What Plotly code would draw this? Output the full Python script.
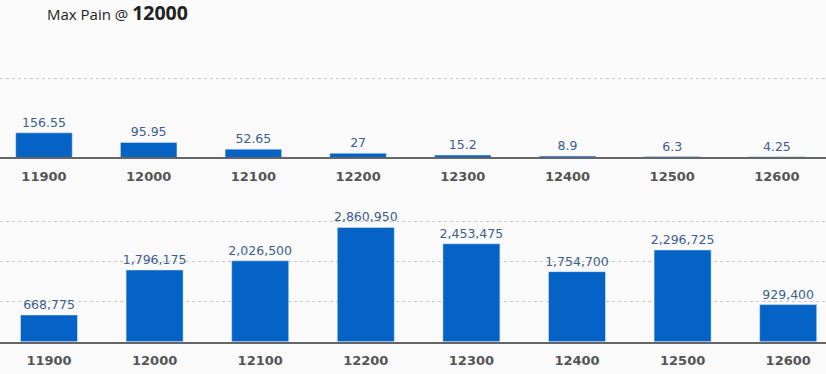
import plotly.graph_objects as go

strikes = ["11900", "12000", "12100", "12200", "12300", "12400", "12500", "12600"]
pain_values = [156.55, 95.95, 52.65, 27, 15.2, 8.9, 6.3, 4.25]
pain_labels = ["156.55", "95.95", "52.65", "27", "15.2", "8.9", "6.3", "4.25"]
oi_values = [668775, 1796175, 2026500, 2860950, 2453475, 1754700, 2296725, 929400]
max_pain_strike = "12000"

BAR = "#0563c6"
LBL = "#3d5f8f"
BG = "#fafafa"

fig = go.Figure()
fig.add_trace(go.Bar(x=list(range(len(strikes))), y=pain_values, marker_color=BAR,
                     width=0.54, text=pain_labels, textposition="outside", constraintext="none",
                     textfont=dict(family="DejaVu Sans", size=12.5, color=LBL),
                     cliponaxis=False, xaxis="x", yaxis="y", hoverinfo="skip"))
fig.add_trace(go.Bar(x=list(range(len(strikes))), y=oi_values, marker_color=BAR,
                     width=0.54, text=[f"{v:,}" for v in oi_values], textposition="outside",
                     constraintext="none",
                     textfont=dict(family="DejaVu Sans", size=12.5, color=LBL),
                     cliponaxis=False, xaxis="x2", yaxis="y2", hoverinfo="skip"))

tickfont = dict(family="DejaVu Sans", size=13, color="#555555", weight="bold")
xcommon = dict(tickmode="array", tickvals=list(range(len(strikes))), ticktext=strikes,
               tickfont=tickfont, showgrid=False, zeroline=False, showline=True,
               linecolor="#666666", linewidth=2, ticks="", ticklabelstandoff=6)
fig.update_layout(
    width=826, height=374,
    margin=dict(l=0, r=0, t=0, b=0),
    paper_bgcolor=BG, plot_bgcolor=BG,
    showlegend=False,
    xaxis=dict(domain=[0, 1], range=[-0.42, 7.469], anchor="y", **xcommon),
    yaxis=dict(domain=[0.5789, 1.0], range=[0, 1000], tickvals=[500], showticklabels=False,
               gridcolor="#c8c8c8", griddash="dot", gridwidth=1, zeroline=False),
    xaxis2=dict(domain=[0, 1], range=[-0.464, 7.358], anchor="y2", **xcommon),
    yaxis2=dict(domain=[0.0864, 0.5134], range=[0, 4000000],
                tickvals=[1000000, 2000000, 3000000], showticklabels=False,
                gridcolor="#c8c8c8", griddash="dot", gridwidth=1, zeroline=False),
    annotations=[dict(xref="paper", yref="paper", x=45 / 826, y=1 - 12 / 374,
                      xanchor="left", yanchor="middle", showarrow=False,
                      text=f"Max Pain @ <b style='font-size:19.5px'>{max_pain_strike}</b>",
                      font=dict(family="Open Sans", size=15, color="#222222"))],
)
fig.write_html("out.html", config={"displayModeBar": False},
               post_script="document.body.style.margin='0';document.body.style.background='#fafafa';")
